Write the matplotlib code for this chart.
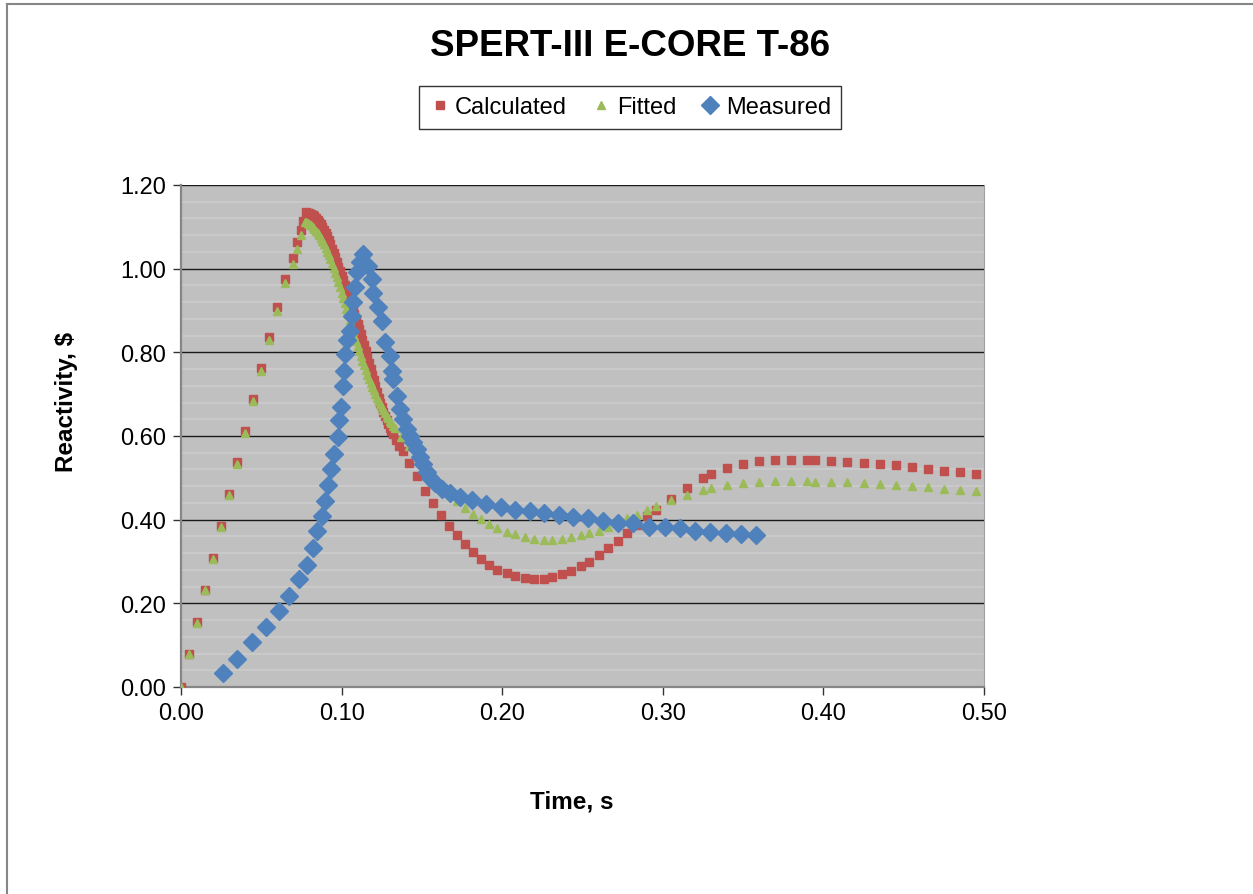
import numpy as np
import matplotlib
matplotlib.use("Agg")
import matplotlib.pyplot as plt
from matplotlib.lines import Line2D
from matplotlib.ticker import MultipleLocator, FormatStrFormatter

plt.rcParams['font.family'] = ['Liberation Sans', 'DejaVu Sans']

# ============================
# Data
# ============================
t_calc = [0.000, 0.005, 0.010, 0.015, 0.020, 0.025, 0.030, 0.035, 0.040, 0.045,
          0.050, 0.055, 0.060, 0.065, 0.0695, 0.072, 0.0747, 0.076,
          0.078, 0.079, 0.080, 0.081, 0.082, 0.083, 0.084, 0.085, 0.086, 0.087,
          0.088, 0.089, 0.090, 0.091, 0.092, 0.093, 0.094, 0.095, 0.096, 0.097,
          0.098, 0.099, 0.100, 0.101, 0.102, 0.103, 0.104, 0.105, 0.106, 0.107,
          0.108, 0.109, 0.110, 0.111, 0.112, 0.113, 0.114, 0.115, 0.116, 0.117,
          0.118, 0.119, 0.120, 0.121, 0.122, 0.123, 0.124, 0.125, 0.126, 0.127,
          0.128, 0.129, 0.130, 0.131, 0.132,
          0.134, 0.136, 0.138, 0.142, 0.147, 0.152, 0.157, 0.162, 0.167, 0.172,
          0.177, 0.182, 0.187, 0.192, 0.197, 0.203, 0.208, 0.214, 0.220, 0.226,
          0.231, 0.237, 0.243, 0.249, 0.254, 0.260, 0.266, 0.272, 0.278, 0.284,
          0.290, 0.296, 0.305, 0.315, 0.325, 0.330, 0.340, 0.350, 0.360, 0.370,
          0.380, 0.390, 0.395, 0.405, 0.415, 0.425, 0.435, 0.445, 0.455, 0.465,
          0.475, 0.485, 0.495]
r_calc = [0.000, 0.080, 0.156, 0.233, 0.308, 0.386, 0.461, 0.537, 0.612, 0.688,
          0.762, 0.836, 0.909, 0.975, 1.025, 1.063, 1.093, 1.115,
          1.135, 1.134, 1.133, 1.131, 1.128, 1.125, 1.121, 1.117, 1.112, 1.106,
          1.100, 1.093, 1.086, 1.077, 1.068, 1.058, 1.048, 1.038, 1.027, 1.016,
          1.005, 0.994, 0.983, 0.972, 0.961, 0.949, 0.937, 0.926, 0.914, 0.903,
          0.891, 0.880, 0.868, 0.856, 0.843, 0.830, 0.817, 0.803, 0.789, 0.775,
          0.761, 0.747, 0.733, 0.719, 0.705, 0.692, 0.680, 0.669, 0.658, 0.648,
          0.638, 0.629, 0.620, 0.612, 0.604,
          0.590, 0.577, 0.565, 0.535, 0.504, 0.469, 0.439, 0.410, 0.386, 0.363,
          0.341, 0.322, 0.306, 0.292, 0.280, 0.272, 0.265, 0.260, 0.257, 0.259,
          0.262, 0.269, 0.277, 0.290, 0.300, 0.316, 0.332, 0.350, 0.368, 0.388,
          0.408, 0.424, 0.450, 0.476, 0.499, 0.508, 0.523, 0.534, 0.540, 0.543,
          0.543, 0.543, 0.543, 0.540, 0.539, 0.536, 0.534, 0.530, 0.526, 0.521,
          0.517, 0.513, 0.509]

t_fit = [0.000, 0.005, 0.010, 0.015, 0.020, 0.025, 0.030, 0.035, 0.040, 0.045,
         0.050, 0.055, 0.060, 0.065, 0.0695, 0.072, 0.0747,
         0.077, 0.078, 0.079, 0.080, 0.081, 0.082, 0.083, 0.084, 0.085, 0.086,
         0.087, 0.088, 0.089, 0.090, 0.091, 0.092, 0.093, 0.094, 0.095, 0.096,
         0.097, 0.098, 0.099, 0.100, 0.101, 0.102, 0.103, 0.104, 0.105, 0.106,
         0.107, 0.108, 0.109, 0.110, 0.111, 0.112, 0.113, 0.114, 0.115, 0.116,
         0.117, 0.118, 0.119, 0.120, 0.121, 0.122, 0.123, 0.124, 0.125, 0.126,
         0.127, 0.128, 0.129, 0.130, 0.131, 0.132, 0.133,
         0.137, 0.142, 0.147, 0.152, 0.157, 0.162, 0.167, 0.172,
         0.177, 0.182, 0.187, 0.192, 0.197, 0.203, 0.208, 0.214, 0.220, 0.226,
         0.231, 0.237, 0.243, 0.249, 0.254, 0.260, 0.266, 0.272, 0.278, 0.284,
         0.290, 0.296, 0.305, 0.315, 0.325, 0.330, 0.340, 0.350, 0.360, 0.370,
         0.380, 0.390, 0.395, 0.405, 0.415, 0.425, 0.435, 0.445, 0.455, 0.465,
         0.475, 0.485, 0.495]
r_fit = [0.000, 0.078, 0.154, 0.231, 0.306, 0.383, 0.458, 0.533, 0.607, 0.683,
         0.756, 0.829, 0.900, 0.966, 1.012, 1.048, 1.080,
         1.111, 1.112, 1.110, 1.107, 1.104, 1.100, 1.096, 1.091, 1.086, 1.080,
         1.073, 1.066, 1.058, 1.050, 1.041, 1.032, 1.022, 1.012, 1.001, 0.990,
         0.979, 0.967, 0.955, 0.943, 0.930, 0.917, 0.904, 0.891, 0.878, 0.865,
         0.852, 0.839, 0.827, 0.815, 0.803, 0.791, 0.780, 0.769, 0.758, 0.747,
         0.737, 0.727, 0.718, 0.709, 0.700, 0.692, 0.684, 0.676, 0.669, 0.662,
         0.655, 0.648, 0.642, 0.636, 0.630, 0.624, 0.618,
         0.598, 0.575, 0.552, 0.530, 0.508, 0.487, 0.466, 0.445,
         0.428, 0.414, 0.402, 0.390, 0.379, 0.371, 0.365, 0.359, 0.353, 0.351,
         0.351, 0.354, 0.359, 0.363, 0.369, 0.374, 0.382, 0.392, 0.404, 0.411,
         0.424, 0.432, 0.447, 0.459, 0.471, 0.475, 0.483, 0.488, 0.491, 0.492,
         0.492, 0.492, 0.491, 0.490, 0.489, 0.487, 0.485, 0.482, 0.480, 0.477,
         0.474, 0.471, 0.469]

t_meas = [0.026, 0.0347, 0.0442, 0.0529, 0.0608, 0.0674, 0.0733, 0.0783, 0.082,
          0.0849, 0.0878, 0.0899, 0.0917, 0.0936, 0.0955, 0.0976, 0.0986, 0.0994,
          0.1011, 0.1013, 0.1021, 0.1035, 0.1050, 0.1063, 0.1073, 0.1083, 0.1094,
          0.1115, 0.1136, 0.1166, 0.1187, 0.1198, 0.1229, 0.1250, 0.1271, 0.1302,
          0.1313, 0.1323, 0.1344, 0.1364, 0.1384, 0.1405, 0.1426, 0.1446, 0.1467,
          0.1488, 0.1509, 0.1530, 0.1551, 0.1582, 0.1623, 0.1675, 0.1737, 0.1810,
          0.1900, 0.1991, 0.2080, 0.2174, 0.2260, 0.2353, 0.2442, 0.2536, 0.2629,
          0.2723, 0.2816, 0.2916, 0.3016, 0.3107, 0.3198, 0.3294, 0.3393, 0.3487,
          0.3580]
r_meas = [0.033, 0.067, 0.108, 0.143, 0.182, 0.218, 0.258, 0.292, 0.332,
          0.372, 0.408, 0.445, 0.483, 0.521, 0.557, 0.597, 0.638, 0.670,
          0.720, 0.756, 0.796, 0.830, 0.852, 0.886, 0.920, 0.955, 0.991,
          1.015, 1.035, 1.007, 0.975, 0.943, 0.908, 0.876, 0.824, 0.792,
          0.756, 0.736, 0.696, 0.665, 0.641, 0.617, 0.601, 0.585, 0.568,
          0.550, 0.532, 0.515, 0.500, 0.487, 0.474, 0.463, 0.455, 0.448,
          0.437, 0.430, 0.424, 0.420, 0.416, 0.410, 0.406, 0.404, 0.398,
          0.393, 0.391, 0.383, 0.382, 0.379, 0.374, 0.370, 0.367, 0.366,
          0.363]

# ============================
# Figure
# ============================
W, H = 1253, 895
fig = plt.figure(figsize=(W / 100, H / 100), dpi=100)
ax = fig.add_axes([181 / W, 1 - 688 / H, (984 - 181) / W, (688 - 186) / H])
ax.set_facecolor('#C0C0C0')

ax.plot(t_calc, r_calc, linestyle='none', marker='s', ms=5.4, color='#C0504D',
        label='Calculated', zorder=3)
ax.plot(t_fit, r_fit, linestyle='none', marker='^', ms=5.5, color='#9BBB59',
        label='Fitted', zorder=4)
ax.plot(t_meas, r_meas, linestyle='none', marker='D', ms=9.5, color='#4F81BD',
        label='Measured', zorder=5)

ax.set_xlim(0, 0.5)
ax.set_ylim(0, 1.2)
ax.xaxis.set_major_locator(MultipleLocator(0.1))
ax.yaxis.set_major_locator(MultipleLocator(0.2))
ax.yaxis.set_minor_locator(MultipleLocator(0.04))
ax.xaxis.set_major_formatter(FormatStrFormatter('%.2f'))
ax.yaxis.set_major_formatter(FormatStrFormatter('%.2f'))
ax.grid(which='minor', axis='y', color='#CBCBCB', lw=1.2, zorder=0)
ax.grid(which='major', axis='y', color='#1A1A1A', lw=1.0, zorder=1)
ax.set_axisbelow(True)
ax.tick_params(which='major', direction='out', length=6, width=1, color='#333333',
               labelsize=17, pad=5)
ax.tick_params(which='minor', length=0)

ax.spines['top'].set_visible(False)
ax.spines['right'].set_color('#A0A0A0')
ax.spines['left'].set_color('#868686')
ax.spines['left'].set_linewidth(1.6)
ax.spines['bottom'].set_color('#868686')
ax.spines['bottom'].set_linewidth(1.6)

fig.text(630 / W, 1 - 47 / H, 'SPERT-III E-CORE T-86', ha='center', va='center',
         fontsize=26.5, fontweight='bold')
fig.text(67 / W, 1 - 402 / H, r'Reactivity, \$', ha='center', va='center',
         rotation=90, fontsize=17.5, fontweight='bold')
fig.text(572 / W, 1 - 802 / H, 'Time, s', ha='center', va='center',
         fontsize=17.5, fontweight='bold')

leg = fig.legend(loc='center', bbox_to_anchor=(630 / W, 1 - 108.5 / H), ncol=3,
                 fontsize=17, frameon=True, fancybox=False, edgecolor='black',
                 handlelength=0.9, handletextpad=0.2, columnspacing=1.0,
                 borderpad=0.45)
leg.get_frame().set_linewidth(1.0)

# chart-area border (left and top visible)
fig.add_artist(Line2D([6.5 / W, 6.5 / W], [0, 1 - 5 / H], transform=fig.transFigure,
                      color='#868686', lw=1.5))
fig.add_artist(Line2D([6.5 / W, 1], [1 - 5 / H, 1 - 5 / H], transform=fig.transFigure,
                      color='#868686', lw=1.5))

fig.savefig('out.png', dpi=100)
